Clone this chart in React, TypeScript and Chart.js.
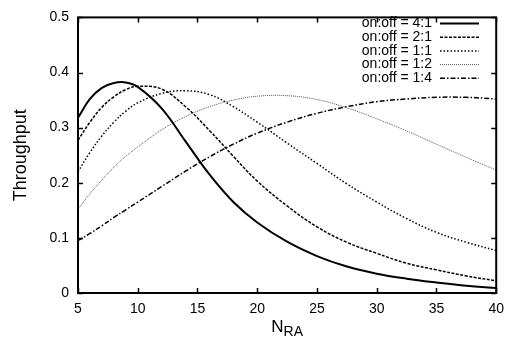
import React, { useEffect, useRef } from "react";
import { Chart, registerables } from "chart.js";

Chart.register(...registerables);

const nra = [5, 6, 7, 8, 9, 10, 12, 14, 16, 18, 20, 22.5, 25, 27.5, 30, 32.5, 35, 37.5, 40];
const onoff41 = [0.318, 0.352, 0.372, 0.381, 0.382, 0.374, 0.335, 0.275, 0.215, 0.165, 0.128, 0.093, 0.067, 0.048, 0.035, 0.026, 0.019, 0.013, 0.009];
const onoff21 = [0.277, 0.31, 0.337, 0.356, 0.369, 0.375, 0.37, 0.338, 0.295, 0.248, 0.203, 0.158, 0.12, 0.092, 0.072, 0.054, 0.042, 0.031, 0.022];
const onoff11 = [0.22, 0.255, 0.285, 0.31, 0.33, 0.345, 0.362, 0.367, 0.36, 0.338, 0.31, 0.272, 0.235, 0.198, 0.165, 0.135, 0.11, 0.092, 0.077];
const onoff12 = [0.152, 0.18, 0.205, 0.228, 0.248, 0.265, 0.296, 0.32, 0.338, 0.35, 0.357, 0.358, 0.351, 0.336, 0.316, 0.294, 0.27, 0.246, 0.223];
const onoff14 = [0.095, 0.108, 0.122, 0.137, 0.151, 0.165, 0.193, 0.221, 0.247, 0.27, 0.29, 0.31, 0.326, 0.338, 0.347, 0.352, 0.355, 0.355, 0.352];

const seriesLabels = ["on:off = 4:1", "on:off = 2:1", "on:off = 1:1", "on:off = 1:2", "on:off = 1:4"];
const xTicks = [5, 10, 15, 20, 25, 30, 35, 40];
const yTicks = [0, 0.1, 0.2, 0.3, 0.4, 0.5];
const yTitle = "Throughput";
const xTitleMain = "N";
const xTitleSub = "RA";

const FONT = "'Liberation Sans', Arial, Helvetica, sans-serif";

const styles = [
  { color: "#000", width: 2, dash: [] as number[] },
  { color: "#000", width: 1.5, dash: [3, 1.5] },
  { color: "#000", width: 1.5, dash: [1.5, 2] },
  { color: "#555", width: 1, dash: [1, 1] },
  { color: "#000", width: 1.5, dash: [5, 2, 1.5, 2] },
];

const allSeries = [onoff41, onoff21, onoff11, onoff12, onoff14];

const framePlugin = {
  id: "gnuframe",
  afterDraw(chart: any) {
    const ctx = chart.ctx;
    const { left, right, top, bottom } = chart.chartArea;
    const xs = chart.scales.x;
    const ys = chart.scales.y;
    ctx.save();
    ctx.strokeStyle = "#000";
    ctx.setLineDash([]);
    ctx.lineWidth = 1.5;
    const tl = 5;
    ctx.beginPath();
    xTicks.forEach((t) => {
      const px = Math.round(xs.getPixelForValue(t)) + 0.5;
      ctx.moveTo(px, bottom);
      ctx.lineTo(px, bottom - tl);
      ctx.moveTo(px, top);
      ctx.lineTo(px, top + tl);
    });
    yTicks.forEach((t) => {
      const py = Math.round(ys.getPixelForValue(t)) + 0.5;
      ctx.moveTo(left, py);
      ctx.lineTo(left + tl, py);
      ctx.moveTo(right, py);
      ctx.lineTo(right - tl, py);
    });
    ctx.stroke();
    ctx.lineWidth = 2;
    ctx.strokeRect(left, top, right - left, bottom - top);

    // legend
    ctx.font = `14px ${FONT}`;
    ctx.fillStyle = "#000";
    ctx.textAlign = "right";
    ctx.textBaseline = "middle";
    seriesLabels.forEach((lab, i) => {
      const y = 23.5 + i * 13.7;
      ctx.fillText(lab, 432, y);
      const s = styles[i];
      ctx.beginPath();
      ctx.strokeStyle = s.color;
      ctx.lineWidth = s.width;
      ctx.setLineDash(s.dash);
      ctx.moveTo(440, y);
      ctx.lineTo(479, y);
      ctx.stroke();
    });
    ctx.setLineDash([]);
    ctx.strokeStyle = "#000";

    // y title
    ctx.save();
    ctx.translate(21, (top + bottom) / 2);
    ctx.rotate(-Math.PI / 2);
    ctx.textAlign = "center";
    ctx.textBaseline = "middle";
    ctx.font = `18px ${FONT}`;
    ctx.fillText(yTitle, 0, 0);
    ctx.restore();

    // x title with subscript
    ctx.textBaseline = "alphabetic";
    ctx.textAlign = "left";
    ctx.font = `17px ${FONT}`;
    const wN = ctx.measureText(xTitleMain).width;
    ctx.font = `14px ${FONT}`;
    const wS = ctx.measureText(xTitleSub).width;
    const cx = (left + right) / 2;
    const x0 = cx - (wN + wS) / 2;
    ctx.font = `17px ${FONT}`;
    ctx.fillText(xTitleMain, x0, 332);
    ctx.font = `14px ${FONT}`;
    ctx.fillText(xTitleSub, x0 + wN, 335.5);
    ctx.restore();
  },
};

export default function App() {
  const ref = useRef<HTMLCanvasElement | null>(null);
  useEffect(() => {
    if (!ref.current) return;
    const chart = new Chart(ref.current, {
      type: "line",
      data: {
        datasets: allSeries.map((vals, i) => ({
          label: seriesLabels[i],
          data: vals.map((v, j) => ({ x: nra[j], y: v })),
          borderColor: styles[i].color,
          borderWidth: styles[i].width,
          borderDash: styles[i].dash,
          pointRadius: 0,
          fill: false,
          tension: 0.4,
        })),
      },
      options: {
        responsive: false,
        animation: false,
        layout: { padding: { top: 10, right: 15, left: 0, bottom: 0 } },
        plugins: { legend: { display: false }, tooltip: { enabled: false } },
        scales: {
          x: {
            type: "linear",
            min: 5,
            max: 40,
            afterFit: (s: any) => { s.height = 48; },
            afterBuildTicks: (s: any) => { s.ticks = xTicks.map((v) => ({ value: v })); },
            grid: { display: false, drawTicks: false },
            border: { display: false },
            ticks: { padding: 8, color: "#000", font: { family: FONT, size: 14 }, maxRotation: 0 },
          },
          y: {
            type: "linear",
            min: 0,
            max: 0.5,
            afterFit: (s: any) => { s.width = 78; },
            afterBuildTicks: (s: any) => { s.ticks = yTicks.map((v) => ({ value: v })); },
            grid: { display: false, drawTicks: false },
            border: { display: false },
            ticks: {
              padding: 9,
              color: "#000",
              font: { family: FONT, size: 14 },
              callback: (v: any) => String(Math.round(Number(v) * 10) / 10),
            },
          },
        },
      },
      plugins: [framePlugin],
    });
    return () => chart.destroy();
  }, []);
  return (
    <div style={{ position: "absolute", left: 0, top: 0, width: 512, height: 341, background: "#fff" }}>
      <canvas ref={ref} width={512} height={341} />
    </div>
  );
}
